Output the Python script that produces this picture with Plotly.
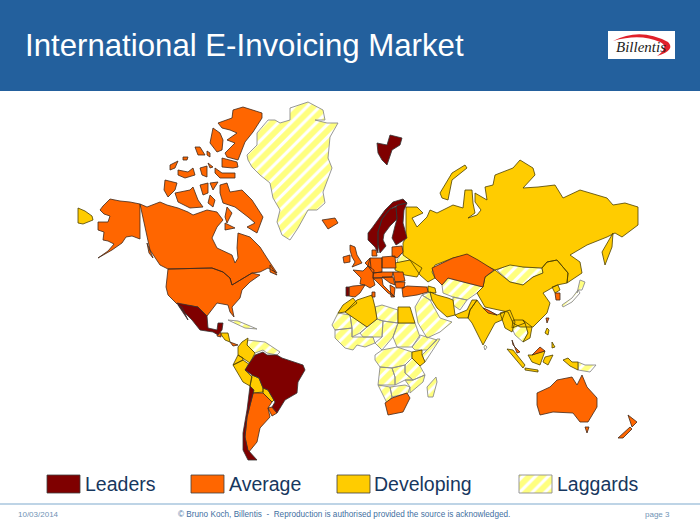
import plotly.graph_objects as go

# map outlines, in picture units (x right, y down)
leaders_regions = [
    [(177, 303), (198, 307), (207, 316), (208, 328), (217, 330), (218, 323), (223, 323), (222, 330), (218, 335),
     (213, 332), (200, 330), (192, 320), (182, 310)],
    [(178, 305), (182, 307), (188, 320), (186, 317)],
    [(255, 355), (263, 352), (267, 355), (277, 355), (282, 358), (292, 361), (303, 365), (305, 370), (298, 382),
     (297, 393), (285, 400), (277, 413), (272, 407), (275, 402), (268, 390), (263, 388), (259, 378), (252, 375),
     (245, 370), (248, 365)],
    [(250, 386), (254, 390), (247, 417), (245, 437), (248, 450), (257, 460), (248, 460), (243, 450), (243, 433),
     (247, 410)],
    [(368, 233), (372, 228), (385, 210), (393, 202), (403, 199), (407, 203), (398, 205), (390, 209), (382, 219),
     (378, 232), (378, 245), (378, 253), (375, 247), (368, 240)],
    [(378, 232), (382, 219), (390, 209), (396, 207), (397, 219), (390, 226), (384, 234), (383, 240), (386, 246),
     (380, 253), (378, 245)],
    [(396, 207), (398, 205), (407, 203), (404, 210), (403, 223), (407, 238), (396, 245), (392, 238), (395, 226),
     (397, 219)],
    [(377, 143), (387, 145), (390, 135), (402, 138), (400, 145), (392, 150), (387, 165), (382, 160), (378, 153)],
    [(346, 287), (349, 287), (349, 296), (346, 296)],
]

average_regions = [
    [(100, 210), (103, 206), (110, 199), (120, 201), (130, 202), (140, 204), (140, 239), (132, 236), (126, 237),
     (122, 243), (112, 250), (100, 257), (98, 258), (108, 251), (114, 244), (108, 241), (103, 240), (104, 232),
     (98, 230), (98, 222), (108, 222), (110, 216), (104, 214)],
    [(140, 204), (147, 207), (160, 202), (167, 205), (178, 208), (188, 212), (193, 215), (207, 210), (217, 212),
     (223, 220), (217, 227), (212, 238), (217, 248), (232, 255), (235, 263), (238, 258), (237, 248), (238, 233),
     (250, 237), (260, 247), (267, 258), (277, 273), (268, 268), (260, 272), (252, 273), (232, 285), (230, 278),
     (223, 272), (212, 268), (168, 269), (160, 265), (150, 250)],
    [(168, 269), (212, 268), (223, 272), (230, 278), (232, 285), (252, 273), (260, 275), (250, 282), (242, 290),
     (240, 298), (232, 307), (234, 317), (230, 312), (228, 305), (217, 303), (207, 316), (198, 307), (177, 304),
     (168, 295), (166, 287)],
    [(218, 123), (232, 118), (233, 110), (243, 107), (262, 113), (262, 118), (253, 132), (245, 142), (238, 160),
     (227, 157), (225, 153), (235, 143), (227, 140), (237, 133), (230, 130), (222, 128)],
    [(213, 128), (220, 133), (223, 140), (222, 150), (217, 152), (210, 143)],
    [(195, 147), (200, 147), (205, 155), (198, 155)],
    [(207, 151), (210, 153), (210, 157), (207, 155)],
    [(170, 165), (178, 161), (175, 168), (170, 170)],
    [(183, 157), (188, 157), (187, 160), (183, 160)],
    [(178, 170), (188, 172), (193, 168), (195, 175), (185, 178), (178, 175)],
    [(200, 168), (207, 166), (207, 177), (202, 175)],
    [(208, 163), (213, 167), (210, 168)],
    [(222, 158), (237, 162), (238, 167), (233, 168), (222, 167)],
    [(215, 168), (222, 173), (235, 173), (235, 178), (220, 178), (215, 173)],
    [(165, 180), (177, 183), (175, 190), (168, 197), (164, 190)],
    [(175, 193), (190, 190), (193, 187), (198, 200), (203, 207), (190, 208), (178, 202)],
    [(200, 185), (208, 183), (208, 193), (203, 195)],
    [(210, 183), (218, 182), (213, 190)],
    [(220, 185), (227, 183), (230, 192), (242, 190), (252, 200), (263, 217), (257, 233), (247, 227), (255, 223),
     (248, 217), (235, 207), (223, 203), (220, 193)],
    [(210, 195), (215, 200), (213, 207), (208, 203)],
    [(225, 223), (235, 228), (225, 230)],
    [(227, 207), (232, 213), (227, 223), (225, 217)],
    [(147, 243), (153, 258), (149, 253)],
    [(270, 265), (277, 275), (270, 272)],
    [(322, 220), (335, 218), (338, 223), (328, 229)],
    [(350, 245), (355, 247), (357, 255), (362, 263), (352, 267), (355, 262), (352, 257), (350, 250)],
    [(343, 257), (350, 255), (350, 262), (344, 263)],
    [(349, 287), (353, 286), (365, 285), (360, 293), (355, 297), (349, 296)],
    [(353, 270), (363, 271), (368, 266), (374, 270), (373, 278), (375, 285), (370, 288), (365, 285), (360, 284),
     (361, 278)],
    [(365, 263), (370, 258), (371, 268), (368, 266)],
    [(370, 258), (382, 258), (382, 272), (373, 273), (368, 266)],
    [(372, 250), (376, 250), (377, 256), (372, 256)],
    [(382, 257), (395, 256), (396, 268), (382, 268)],
    [(392, 247), (402, 246), (403, 252), (397, 258), (392, 256)],
    [(373, 273), (382, 272), (393, 272), (392, 277), (373, 278)],
    [(373, 278), (382, 278), (383, 285), (395, 297), (388, 293), (378, 283)],
    [(382, 277), (393, 277), (395, 285), (390, 283)],
    [(393, 272), (403, 272), (405, 281), (395, 282)],
    [(395, 282), (405, 282), (404, 288), (396, 288)],
    [(390, 285), (395, 288), (394, 297), (391, 297)],
    [(402, 288), (407, 286), (427, 287), (428, 292), (417, 295), (403, 297)],
    [(372, 292), (375, 292), (375, 297), (372, 297)],
    [(218, 332), (221, 333), (221, 337), (217, 336)],
    [(230, 342), (235, 344), (238, 345), (233, 346)],
    [(253, 393), (263, 393), (272, 402), (268, 408), (270, 417), (260, 428), (257, 442), (248, 453), (245, 437),
     (247, 417)],
    [(272, 407), (277, 413), (272, 416), (268, 408)],
    [(432, 268), (453, 258), (467, 254), (478, 260), (494, 270), (485, 277), (483, 287), (463, 282), (448, 278),
     (442, 285), (435, 278)],
    [(483, 308), (488, 310), (497, 315), (488, 313)],
    [(555, 293), (560, 293), (560, 300), (556, 300)],
    [(546, 318), (549, 318), (547, 323)],
    [(512, 340), (517, 353), (520, 352), (513, 345)],
    [(532, 355), (540, 347), (545, 351), (537, 353)],
    [(537, 393), (550, 387), (557, 380), (572, 377), (577, 385), (582, 375), (587, 387), (597, 398), (597, 407),
     (588, 422), (580, 422), (573, 413), (553, 412), (540, 415), (537, 405)],
    [(585, 427), (589, 427), (587, 433)],
    [(628, 415), (637, 422), (632, 427), (630, 420)],
    [(630, 427), (632, 429), (623, 438), (618, 438)],
    [(385, 403), (392, 398), (407, 393), (410, 398), (403, 412), (388, 415)],
]

developing_regions = [
    [(78, 208), (85, 211), (92, 216), (93, 220), (83, 224), (78, 223)],
    [(406, 207), (417, 207), (423, 213), (412, 218), (417, 227), (427, 217), (430, 210), (437, 213), (443, 210),
     (453, 205), (463, 208), (465, 190), (472, 190), (473, 203), (475, 213), (468, 218), (477, 215), (481, 210),
     (475, 202), (475, 193), (487, 200), (485, 187), (493, 185), (495, 175), (513, 168), (520, 160), (533, 168),
     (535, 175), (523, 188), (538, 187), (555, 185), (563, 198), (580, 190), (607, 198), (613, 205), (625, 203),
     (638, 207), (638, 225), (622, 237), (615, 233), (607, 237), (587, 245), (570, 255), (580, 262), (582, 273),
     (567, 283), (568, 273), (557, 260), (547, 262), (542, 268), (523, 267), (510, 265), (495, 270), (478, 262),
     (467, 255), (453, 258), (435, 265), (432, 272), (435, 278), (428, 282), (420, 275), (410, 260), (403, 255),
     (403, 243), (406, 237)],
    [(440, 193), (452, 173), (465, 165), (467, 168), (452, 180), (448, 200), (442, 198)],
    [(602, 252), (613, 233), (612, 247), (605, 265)],
    [(485, 277), (495, 270), (510, 282), (523, 285), (533, 277), (543, 273), (542, 268), (547, 262), (557, 260),
     (568, 273), (567, 283), (557, 285), (543, 293), (550, 303), (547, 313), (533, 327), (520, 327), (513, 323),
     (508, 312), (485, 307), (477, 293), (483, 287)],
    [(552, 287), (558, 285), (560, 290), (555, 293)],
    [(395, 263), (410, 260), (422, 268), (417, 277), (405, 275), (395, 270)],
    [(430, 292), (437, 295), (448, 298), (453, 300), (455, 315), (447, 317), (437, 308), (432, 300)],
    [(428, 286), (435, 288), (436, 293), (428, 292)],
    [(455, 315), (467, 310), (472, 300), (477, 300), (470, 310), (468, 318), (458, 318)],
    [(477, 300), (483, 308), (497, 315), (505, 312), (502, 320), (495, 323), (483, 345), (477, 333), (472, 323),
     (468, 318), (470, 310)],
    [(500, 313), (510, 310), (515, 322), (512, 332), (505, 328)],
    [(513, 320), (523, 320), (525, 323), (512, 328)],
    [(523, 320), (532, 327), (530, 338), (523, 342), (528, 333), (525, 323)],
    [(507, 349), (513, 350), (525, 365), (523, 368)],
    [(525, 368), (538, 370), (538, 372), (525, 370)],
    [(528, 355), (532, 355), (537, 353), (545, 351), (540, 365), (532, 362)],
    [(545, 357), (553, 355), (548, 365), (543, 362)],
    [(547, 328), (549, 330), (548, 335), (545, 333)],
    [(552, 342), (555, 347), (552, 348)],
    [(563, 360), (568, 358), (572, 362), (578, 362), (578, 370), (570, 366)],
    [(343, 305), (353, 298), (357, 303), (345, 312), (338, 313)],
    [(345, 312), (357, 300), (372, 295), (375, 307), (377, 319), (367, 327)],
    [(398, 307), (410, 307), (415, 323), (398, 323)],
    [(412, 352), (422, 350), (422, 355), (425, 362), (420, 366), (412, 358)],
    [(220, 333), (228, 333), (230, 342), (225, 340)],
    [(242, 342), (248, 338), (247, 345), (255, 353), (250, 363), (243, 358), (238, 355), (238, 347)],
    [(238, 355), (243, 358), (243, 360), (233, 365)],
    [(233, 365), (243, 360), (250, 365), (245, 370), (252, 377), (250, 386), (243, 382)],
    [(252, 375), (259, 378), (263, 388), (263, 392), (253, 393), (250, 386)],
    [(263, 388), (268, 390), (274, 400), (272, 402), (263, 393)],
]

laggards_regions = [
    [(247, 155), (257, 145), (257, 133), (268, 120), (275, 120), (280, 123), (290, 120), (290, 108), (308, 102),
     (323, 110), (325, 120), (315, 120), (327, 123), (338, 123), (330, 137), (328, 158), (332, 168), (323, 192),
     (325, 203), (317, 210), (308, 210), (298, 228), (290, 240), (282, 235), (277, 222), (280, 210), (273, 198),
     (270, 183), (260, 175), (252, 167), (248, 160)],
    [(228, 320), (238, 321), (250, 326), (257, 329), (245, 328), (236, 324)],
    [(247, 340), (265, 342), (280, 352), (277, 355), (267, 353), (263, 350), (255, 353), (247, 345)],
    [(397, 260), (402, 253), (410, 260), (398, 263)],
    [(497, 270), (512, 263), (523, 267), (542, 268), (543, 273), (533, 277), (523, 285), (510, 282)],
    [(442, 285), (448, 278), (463, 282), (483, 287), (477, 293), (467, 300), (453, 297), (443, 293)],
    [(453, 297), (467, 300), (460, 310), (453, 305)],
    [(415, 307), (422, 295), (430, 300), (440, 318), (452, 322), (440, 332), (427, 338), (418, 323)],
    [(422, 295), (430, 292), (432, 300), (430, 300)],
    [(562, 305), (572, 298), (578, 290), (580, 293), (572, 302), (563, 307)],
    [(577, 293), (580, 280), (585, 282), (582, 290), (578, 290)],
    [(512, 328), (525, 322), (528, 333), (523, 342), (515, 335)],
    [(485, 345), (487, 347), (485, 350), (484, 347)],
    [(578, 362), (585, 365), (596, 365), (590, 372), (578, 370)],
    [(436, 377), (437, 382), (433, 397), (428, 397), (427, 387)],
    [(375, 307), (382, 305), (398, 310), (398, 323), (383, 321), (377, 319)],
    [(332, 325), (338, 313), (350, 315), (352, 328), (335, 330)],
    [(350, 315), (367, 327), (360, 333), (352, 337), (352, 328)],
    [(367, 327), (377, 319), (383, 321), (382, 337), (363, 337), (360, 333)],
    [(383, 321), (398, 323), (393, 337), (382, 350), (375, 343), (382, 337)],
    [(398, 323), (415, 323), (420, 337), (412, 347), (397, 347), (393, 337)],
    [(335, 330), (352, 328), (352, 337), (363, 337), (373, 337), (375, 343), (365, 347), (357, 345), (353, 350),
     (345, 348), (335, 338)],
    [(420, 335), (437, 340), (427, 350), (415, 350), (412, 347)],
    [(437, 339), (440, 339), (425, 362), (422, 355), (427, 350)],
    [(375, 355), (382, 350), (397, 347), (412, 352), (412, 358), (405, 365), (392, 368), (380, 367), (375, 360)],
    [(405, 365), (412, 358), (420, 366), (425, 375), (413, 380), (405, 373)],
    [(380, 367), (392, 368), (395, 377), (395, 385), (378, 385)],
    [(392, 368), (405, 365), (405, 373), (413, 380), (405, 380), (395, 385), (395, 377)],
    [(413, 380), (425, 375), (423, 382), (410, 393), (410, 387), (405, 380)],
    [(378, 385), (390, 387), (392, 397), (387, 403)],
    [(390, 387), (405, 385), (410, 387), (408, 393), (392, 397)],
]

legend_labels = ["Leaders", "Average", "Developing", "Laggards"]
title_text = "International E-Invoicing Market"
footer_date = "10/03/2014"
footer_note = "© Bruno Koch, Billentis  -  Reproduction is authorised provided the source is acknowledged."
footer_page = "page 3"


def ring_coords(regions):
    """Join polygons into one x and one y list with gaps between them."""
    xs, ys = [], []
    for region in regions:
        closed = region + [region[0]]
        xs += [p[0] for p in closed] + [None]
        ys += [p[1] for p in closed] + [None]
    return xs, ys


def add_regions(fig, regions, fill, line):
    xs, ys = ring_coords(regions)
    fig.add_trace(go.Scatter(x=xs, y=ys, mode="lines", fill="toself", fillcolor=fill,
                             line=dict(color=line, width=0.8), hoverinfo="skip", showlegend=False))


def add_hatched(fig, regions):
    xs, ys = ring_coords(regions)
    fig.add_trace(go.Scatter(x=xs, y=ys, mode="lines", fill="toself", fillcolor="white",
                             fillpattern=dict(shape="/", fgcolor="#ffff00", bgcolor="white", size=9, solidity=0.65),
                             line=dict(color="#8c8c8c", width=0.9), hoverinfo="skip", showlegend=False))


def box(x0, x1, y0, y1):
    return [(x0, y0), (x1, y0), (x1, y1), (x0, y1)]


fig = go.Figure()

add_hatched(fig, laggards_regions)
add_regions(fig, developing_regions, "#ffcc00", "#4d4000")
add_regions(fig, average_regions, "#ff6600", "#40281a")
add_regions(fig, leaders_regions, "#7f0000", "#333333")

# legend swatches
add_regions(fig, [box(47, 80, 475, 493)], "#7f0000", "#404040")
add_regions(fig, [box(191, 224, 475, 493)], "#ff6600", "#404040")
add_regions(fig, [box(337, 370, 475, 493)], "#ffcc00", "#404040")
add_hatched(fig, [box(519, 552, 475, 493)])

for label, x in zip(legend_labels, [83, 227, 372, 555]):
    fig.add_annotation(x=x, y=484, text=label, showarrow=False, xanchor="left", yanchor="middle",
                       font=dict(family="Liberation Sans", size=19.5, color="#17375e"))

# header band, logo and footer rule
fig.add_shape(type="rect", x0=0, x1=700, y0=0, y1=91, fillcolor="#23609d", line_width=0, layer="below")
fig.add_shape(type="rect", x0=608, x1=675, y0=31, y1=59, fillcolor="white", line_width=0, layer="below")
fig.add_shape(type="path", path="M 613 41 Q 640 27 668 42 Q 676 50 657 56 Q 670 47 660 42 Q 640 33 613 41 Z",
              fillcolor="#e0202a", line_width=0)
fig.add_shape(type="line", x0=0, x1=700, y0=504, y1=504, line=dict(color="#a9c6de", width=1.5), layer="below")

fig.add_annotation(x=23, y=45, text=title_text, showarrow=False, xanchor="left", yanchor="middle",
                   font=dict(family="Liberation Sans", size=31.2, color="white"))
fig.add_annotation(x=641, y=47, text="<i>Billentis</i>", showarrow=False, xanchor="center", yanchor="middle",
                   font=dict(family="Liberation Serif", size=15, color="#222222"))
fig.add_annotation(x=16, y=514, text=footer_date, showarrow=False, xanchor="left", yanchor="middle",
                   font=dict(family="Liberation Sans", size=8, color="#6f93b5"))
fig.add_annotation(x=344, y=514, text=footer_note, showarrow=False, xanchor="center", yanchor="middle",
                   font=dict(family="Liberation Sans", size=8.2, color="#3f6f9f"))
fig.add_annotation(x=672, y=514, text=footer_page, showarrow=False, xanchor="right", yanchor="middle",
                   font=dict(family="Liberation Sans", size=8, color="#6f93b5"))

fig.update_xaxes(range=[0, 700], visible=False, fixedrange=True)
fig.update_yaxes(range=[524, 0], visible=False, fixedrange=True)
fig.update_layout(width=700, height=524, margin=dict(l=0, r=0, t=0, b=0), plot_bgcolor="white",
                  paper_bgcolor="white", showlegend=False)

# the page's default body margin would push the figure off the window
fig.write_html("out.html", config={"displayModeBar": False},
               post_script="document.body.style.margin = '0';")
